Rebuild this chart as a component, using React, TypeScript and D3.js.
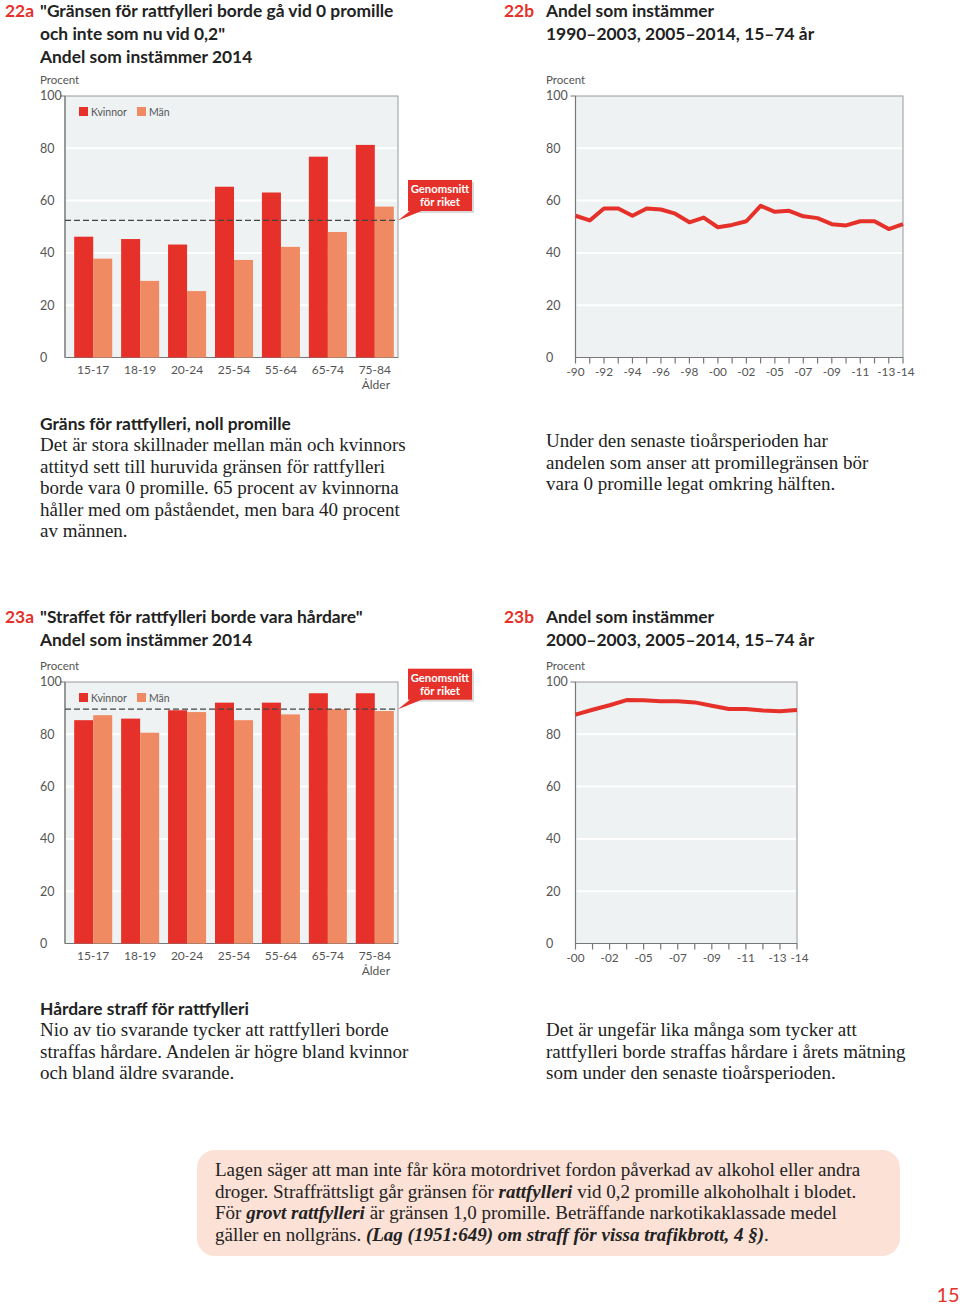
import React from 'react'
import * as d3 from 'd3'

// --- data ---
const ageGroups = ['15-17', '18-19', '20-24', '25-54', '55-64', '65-74', '75-84']

// 22a: "Gränsen för rattfylleri borde gå vid 0 promille"
const zeroWomen = [46.2, 45.3, 43.2, 65.3, 63.1, 76.8, 81.3]
const zeroMen = [37.8, 29.3, 25.4, 37.3, 42.3, 48.0, 57.7]
const zeroAvg = 52.4

// 22b: trend 1990-2003, 2005-2014
const zeroYears = [
    '1990', '1991', '1992', '1993', '1994', '1995', '1996', '1997', '1998', '1999',
    '2000', '2001', '2002', '2003', '2005', '2006', '2007', '2008', '2009', '2010',
    '2011', '2012', '2013', '2014',
]
const zeroTrend = [
    54.2, 52.4, 57.0, 57.0, 54.2, 57.0, 56.6, 55.0, 51.7, 53.5,
    49.8, 50.7, 52.1, 58.0, 55.7, 56.1, 54.0, 53.3, 51.0, 50.5,
    52.1, 52.1, 49.1, 51.0,
]
const zeroLabelYears = ['1990', '1992', '1994', '1996', '1998', '2000', '2002', '2005', '2007', '2009', '2011', '2013', '2014']

// 23a: "Straffet för rattfylleri borde vara hårdare"
const harderWomen = [85.4, 86.0, 89.2, 92.1, 92.1, 95.7, 95.7]
const harderMen = [87.3, 80.6, 88.5, 85.4, 87.6, 89.6, 88.9]
const harderAvg = 89.6

// 23b: trend 2000-2003, 2005-2014
const harderYears = ['2000', '2001', '2002', '2003', '2005', '2006', '2007', '2008', '2009', '2010', '2011', '2012', '2013', '2014']
const harderTrend = [87.5, 89.4, 91.1, 93.1, 93.0, 92.6, 92.6, 92.2, 90.9, 89.7, 89.7, 89.1, 88.8, 89.3]
const harderLabelYears = ['2000', '2002', '2005', '2007', '2009', '2011', '2013', '2014']

const yTicks = [0, 20, 40, 60, 80, 100]

// --- style ---
const RED = '#e5312a'
const ORANGE = '#ef8a62'
const PLOT_BG = '#eef2f3'
const SANS = 'Lato, "Open Sans", sans-serif'
const SERIF = '"Liberation Serif", "DejaVu Serif", serif'
const TXT = '#222'
const AXIS_TXT = '#555'
const HEAD = 17.4
const BODY = 19

const yearLabel = (y: string) => '-' + y.slice(2)

function Frame({ x0, x1, y }: any) {
    const [top, bottom] = [y(100), y(0)]
    return (
        <g>
            <rect x={x0} y={top} width={x1 - x0} height={bottom - top} fill={PLOT_BG} stroke="#9a9a9a" strokeWidth={1} />
            {yTicks.filter((t) => t > 0 && t < 100).map((t) => (
                <line key={t} x1={x0 + 1} x2={x1 - 1} y1={y(t)} y2={y(t)} stroke="#fff" strokeWidth={2} />
            ))}
            <line x1={x0} x2={x0} y1={top} y2={bottom} stroke="#777" strokeWidth={1.2} />
            <line x1={x0} x2={x1} y1={bottom} y2={bottom} stroke="#777" strokeWidth={1.2} />
            <line x1={x0 - 5} x2={x0} y1={top} y2={top} stroke="#777" strokeWidth={1} />
        </g>
    )
}

function YLabels({ lx, y, top }: any) {
    return (
        <g fontFamily={SANS} fill={AXIS_TXT}>
            <text x={lx} y={top - 12} fontSize={11.5}>Procent</text>
            {yTicks.map((t) => (
                <text key={t} x={lx} y={y(t)} dy="0.35em" fontSize={12.5}>{t}</text>
            ))}
        </g>
    )
}

function Callout({ x, dashY }: any) {
    const top = dashY - 40.5
    return (
        <g>
            <rect x={x + 2} y={top + 2} width={64} height={31} fill="#000" opacity={0.15} />
            <polygon points={`${x + 3},${top + 30} ${x + 16},${top + 30} ${x - 10},${dashY}`} fill={RED} />
            <rect x={x} y={top} width={64} height={31} fill={RED} />
            <text x={x + 32} y={top + 13} textAnchor="middle" fontFamily={SANS} fontWeight={700} fontSize={11.3} fill="#fff">Genomsnitt</text>
            <text x={x + 32} y={top + 26} textAnchor="middle" fontFamily={SANS} fontWeight={700} fontSize={11.3} fill="#fff">för riket</text>
        </g>
    )
}

function BarPanel({ top, women, men, avg }: any) {
    const x0 = 65
    const x1 = 398
    const y = d3.scaleLinear().domain([0, 100]).range([top + 261.5, top])
    const x = d3.scaleBand().domain(ageGroups).range([69.5, 398.5]).paddingInner(0.19).paddingOuter(0.1)
    const sub = d3.scaleBand().domain(['K', 'M']).range([0, x.bandwidth()])
    const dashY = y(avg)
    return (
        <g>
            <Frame x0={x0} x1={x1} y={y} />
            <YLabels lx={40} y={y} top={top} />
            {ageGroups.map((g, i) => (
                <g key={g}>
                    <rect x={x(g)! + sub('K')!} y={y(women[i])} width={sub.bandwidth()} height={y(0) - y(women[i])} fill={RED} />
                    <rect x={x(g)! + sub('M')!} y={y(men[i])} width={sub.bandwidth()} height={y(0) - y(men[i])} fill={ORANGE} />
                    <text x={x(g)! + x.bandwidth() / 2} y={y(0) + 16} textAnchor="middle" fontFamily={SANS} fontSize={12} fill={AXIS_TXT}>{g}</text>
                </g>
            ))}
            <line x1={x0} x2={x1} y1={dashY} y2={dashY} stroke="#444" strokeWidth={1.2} strokeDasharray="6,3" />
            <text x={390} y={y(0) + 31} textAnchor="end" fontFamily={SANS} fontSize={12} fill={AXIS_TXT}>Ålder</text>
            <g fontFamily={SANS} fontSize={10.5} fill={AXIS_TXT}>
                <rect x={79} y={top + 11} width={9} height={9} fill={RED} />
                <text x={91} y={top + 19.5}>Kvinnor</text>
                <rect x={137} y={top + 11} width={9} height={9} fill={ORANGE} />
                <text x={149} y={top + 19.5}>Män</text>
            </g>
            <Callout x={408} dashY={dashY} />
        </g>
    )
}

function LinePanel({ top, x1, years, values, labelYears }: any) {
    const x0 = 575.5
    const y = d3.scaleLinear().domain([0, 100]).range([top + 261.5, top])
    const x = d3.scalePoint().domain(years).range([x0, x1])
    const line = d3.line<number>().x((_, i) => x(years[i])!).y((d) => y(d))
    const n = labelYears.length
    // the last two labels sit on neighbouring ticks; nudge them apart a little
    const nudge = (i: number) => {
        const adjacent = years.indexOf(labelYears[n - 1]) - years.indexOf(labelYears[n - 2]) === 1
        if (!adjacent) return 0
        if (i === n - 2) return -2.5
        if (i === n - 1) return 2.5
        return 0
    }
    return (
        <g>
            <Frame x0={x0} x1={x1} y={y} />
            <YLabels lx={546} y={y} top={top} />
            {years.map((yr: string) => (
                <line key={yr} x1={x(yr)} x2={x(yr)} y1={y(0)} y2={y(0) + 6} stroke="#777" strokeWidth={1.2} />
            ))}
            {labelYears.map((yr: string, i: number) => (
                <text key={yr} x={x(yr)! + nudge(i)} y={y(0) + 18} textAnchor="middle" fontFamily={SANS} fontSize={11.8} fill={AXIS_TXT}>{yearLabel(yr)}</text>
            ))}
            <path d={line(values) || ''} fill="none" stroke={RED} strokeWidth={4} strokeLinejoin="round" />
        </g>
    )
}

function Title({ x, numX, num, lines, y0 }: any) {
    return (
        <g fontFamily={SANS} fontWeight={700} fontSize={HEAD}>
            <text x={numX} y={y0} fill={RED}>{num}</text>
            {lines.map((l: string, i: number) => (
                <text key={i} x={x} y={y0 + i * 23} fill={TXT}>{l}</text>
            ))}
        </g>
    )
}

function Body({ x, y0, lines, step = 21.5 }: any) {
    return (
        <g fontFamily={SERIF} fontSize={BODY} fill={TXT}>
            {lines.map((l: string, i: number) => (
                <text key={i} x={x} y={y0 + i * step}>{l}</text>
            ))}
        </g>
    )
}

export default function App() {
    return (
        <svg width={960} height={1309} style={{ position: 'absolute', left: 0, top: 0, background: '#fff' }}>
            <Title x={40} numX={5} num="22a" y0={17} lines={['"Gränsen för rattfylleri borde gå vid 0 promille', 'och inte som nu vid 0,2"', 'Andel som instämmer 2014']} />
            <Title x={546} numX={504} num="22b" y0={17} lines={['Andel som instämmer', '1990–2003, 2005–2014, 15–74 år']} />
            <BarPanel top={96} women={zeroWomen} men={zeroMen} avg={zeroAvg} />
            <LinePanel top={96} x1={903} years={zeroYears} values={zeroTrend} labelYears={zeroLabelYears} />

            <text x={40} y={430} fontFamily={SANS} fontWeight={700} fontSize={HEAD} fill={TXT}>Gräns för rattfylleri, noll promille</text>
            <Body x={40} y0={451} lines={[
                'Det är stora skillnader mellan män och kvinnors',
                'attityd sett till huruvida gränsen för rattfylleri',
                'borde vara 0 promille. 65 procent av kvinnorna',
                'håller med om påståendet, men bara 40 procent',
                'av männen.',
            ]} />
            <Body x={546} y0={447} lines={[
                'Under den senaste tioårsperioden har',
                'andelen som anser att promillegränsen bör',
                'vara 0 promille legat omkring hälften.',
            ]} />

            <Title x={40} numX={5} num="23a" y0={623} lines={['"Straffet för rattfylleri borde vara hårdare"', 'Andel som instämmer 2014']} />
            <Title x={546} numX={504} num="23b" y0={623} lines={['Andel som instämmer', '2000–2003, 2005–2014, 15–74 år']} />
            <BarPanel top={682} women={harderWomen} men={harderMen} avg={harderAvg} />
            <LinePanel top={682} x1={797} years={harderYears} values={harderTrend} labelYears={harderLabelYears} />

            <text x={40} y={1015} fontFamily={SANS} fontWeight={700} fontSize={HEAD} fill={TXT}>Hårdare straff för rattfylleri</text>
            <Body x={40} y0={1036} lines={[
                'Nio av tio svarande tycker att rattfylleri borde',
                'straffas hårdare. Andelen är högre bland kvinnor',
                'och bland äldre svarande.',
            ]} />
            <Body x={546} y0={1036} lines={[
                'Det är ungefär lika många som tycker att',
                'rattfylleri borde straffas hårdare i årets mätning',
                'som under den senaste tioårsperioden.',
            ]} />

            <rect x={197} y={1150} width={703} height={106} rx={18} fill="#fbe1d6" />
            <g fontFamily={SERIF} fontSize={BODY} fill={TXT}>
                <text x={215} y={1176}>Lagen säger att man inte får köra motordrivet fordon påverkad av alkohol eller andra</text>
                <text x={215} y={1197.5}>
                    droger. Straffrättsligt går gränsen för <tspan fontWeight={700} fontStyle="italic">rattfylleri</tspan> vid 0,2 promille alkoholhalt i blodet.
                </text>
                <text x={215} y={1219}>
                    För <tspan fontWeight={700} fontStyle="italic">grovt rattfylleri</tspan> är gränsen 1,0 promille. Beträffande narkotikaklassade medel
                </text>
                <text x={215} y={1240.5}>
                    gäller en nollgräns. <tspan fontWeight={700} fontStyle="italic">(Lag (1951:649) om straff för vissa trafikbrott, 4 §)</tspan>.
                </text>
            </g>
            <text x={948} y={1302} textAnchor="middle" fontFamily={SANS} fontSize={20} fill={RED}>15</text>
        </svg>
    )
}
